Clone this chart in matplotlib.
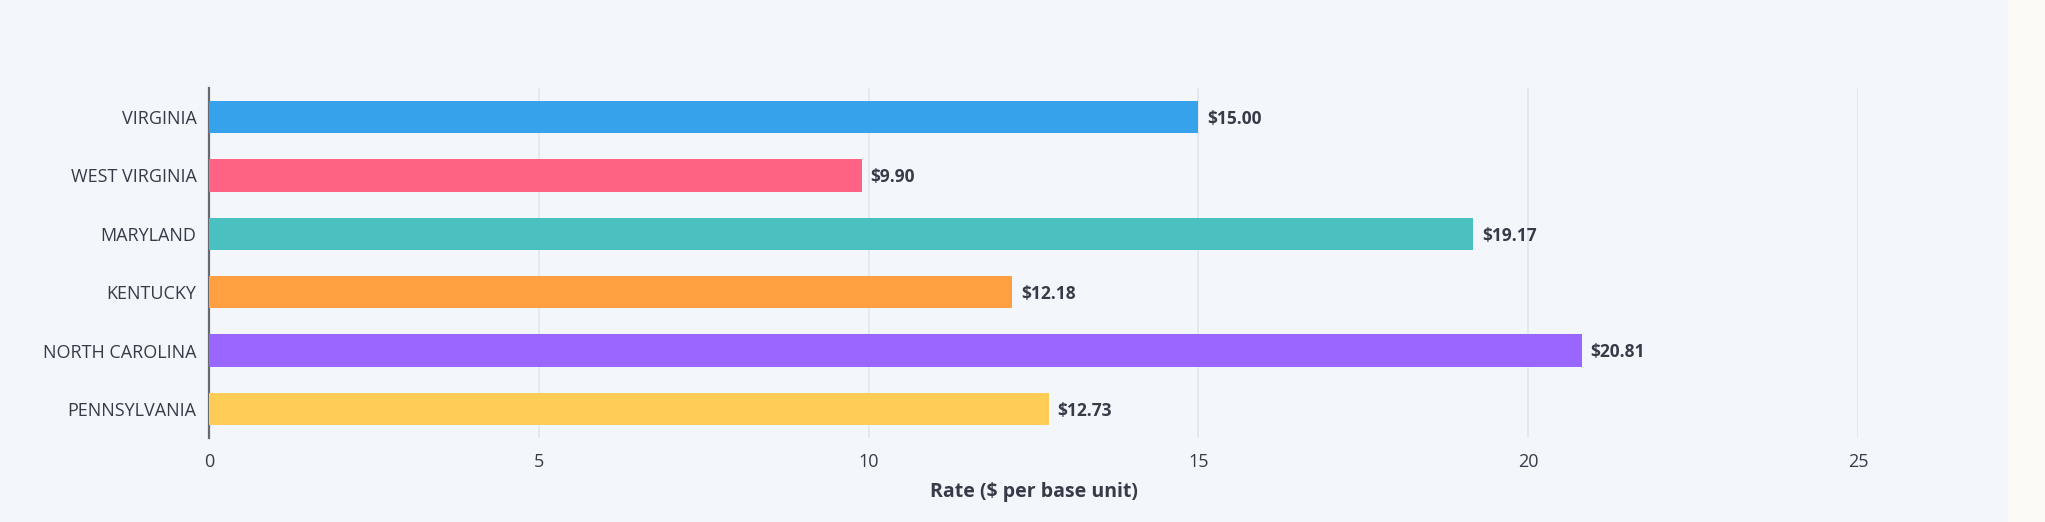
import matplotlib
matplotlib.use("Agg")
import matplotlib.pyplot as plt
from matplotlib.patches import Rectangle

states = ["VIRGINIA", "WEST VIRGINIA", "MARYLAND", "KENTUCKY", "NORTH CAROLINA", "PENNSYLVANIA"]
rates = [15.00, 9.90, 19.17, 12.18, 20.81, 12.73]
colors = ["#36A2EB", "#FF6384", "#4BC0C0", "#FF9F40", "#9966FF", "#FFCD56"]
xticks = [0, 5, 10, 15, 20, 25]
xlabel = "Rate ($ per base unit)"

plt.rcParams['font.family'] = ['Open Sans', 'DejaVu Sans']
text_color = "#363b47"

W, H = 2045, 522
fig = plt.figure(figsize=(W / 100, H / 100), dpi=100)
fig.patch.set_facecolor("#f3f7fc")
fig.patches.append(Rectangle((2008 / W, 0), 1 - 2008 / W, 1, transform=fig.transFigure,
                             facecolor="#faf9f5", edgecolor="none", zorder=0))

ax = fig.add_axes([209 / W, 1 - 438 / H, (1858 - 209) / W, (438 - 88) / H])
ax.set_facecolor("none")

y = list(range(len(states)))
ax.barh(y, rates, height=0.55, color=colors, zorder=3)
for yi, v in zip(y, rates):
    ax.text(v + 0.13, yi + 0.03, f"${v:.2f}", va="center", ha="left", fontsize=12.5,
            fontweight="bold", color=text_color, zorder=4, clip_on=False)

ax.set_ylim(len(states) - 0.5, -0.5)
ax.set_xlim(0, 25)
ax.set_yticks(y)
ax.set_yticklabels(states, fontsize=13, color=text_color)
ax.set_xticks(xticks)
ax.set_xticklabels([str(t) for t in xticks], fontsize=13, color=text_color)
ax.tick_params(axis="both", length=0)
ax.tick_params(axis="y", pad=9)
ax.tick_params(axis="x", pad=11)
ax.grid(axis="x", color="#e2e7ef", linewidth=1.2, zorder=0)
ax.set_axisbelow(True)
for s in ["top", "right", "bottom"]:
    ax.spines[s].set_visible(False)
ax.spines["left"].set_color("#666a70")
ax.spines["left"].set_linewidth(1.6)
ax.set_xlabel(xlabel, fontsize=14, fontweight="bold", color=text_color, labelpad=8)

fig.savefig("out.png", dpi=100, facecolor=fig.get_facecolor())
